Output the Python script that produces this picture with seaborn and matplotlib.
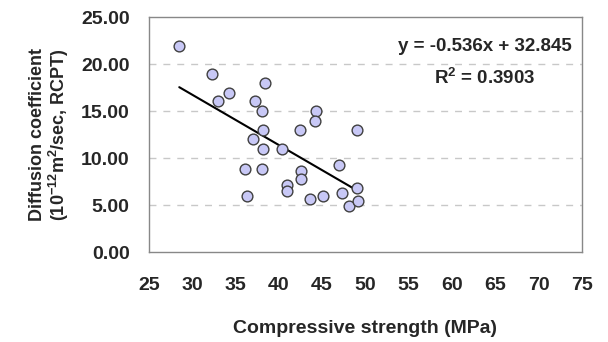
import numpy as np
import pandas as pd
import seaborn as sns
import matplotlib.pyplot as plt

# Compressive strength (MPa) vs diffusion coefficient (1e-12 m2/sec, RCPT)
strength = [28.5, 32.3, 34.3, 33.0, 38.4, 37.3, 38.05, 44.3, 44.2,
            38.2, 42.5, 49.0, 37.0, 38.2, 40.4, 36.05, 38.0, 47.0,
            42.6, 42.6, 40.9, 41.0, 36.35, 43.6, 45.1, 47.3, 49.0,
            48.1, 49.1]
diffusion = [22.0, 19.0, 17.0, 16.1, 18.0, 16.1, 15.0, 15.0, 14.0,
             13.0, 13.0, 13.0, 12.0, 11.0, 11.0, 8.8, 8.9, 9.3,
             8.6, 7.8, 7.1, 6.5, 6.0, 5.7, 6.0, 6.3, 6.8,
             4.9, 5.4]

slope = -0.536
intercept = 32.845
r2 = 0.3903

df = pd.DataFrame({'strength': strength, 'diffusion': diffusion})

sns.set_style("white")
plt.rcParams['font.family'] = ['Liberation Sans', 'DejaVu Sans']
plt.rcParams['mathtext.fontset'] = 'custom'
plt.rcParams['mathtext.rm'] = 'Liberation Sans:bold'
plt.rcParams['mathtext.it'] = 'Liberation Sans:bold'
plt.rcParams['mathtext.bf'] = 'Liberation Sans:bold'

fs = 14

fig = plt.figure(figsize=(6.08, 3.42), dpi=100)
ax = fig.add_axes([0.245, 0.263, 0.712, 0.686])

# trend line from the reported fit
xs = np.array([df['strength'].min(), df['strength'].max()])
ax.plot(xs, slope * xs + intercept, color='black', lw=1.5, zorder=2)

sns.scatterplot(data=df, x='strength', y='diffusion', ax=ax, s=60,
                color='#c8c8f6', edgecolor='#404040', linewidth=1.0, zorder=3)

ax.set_xlim(25, 75)
ax.set_ylim(0, 25)
ax.set_xticks(np.arange(25, 76, 5))
ax.set_yticks(np.arange(0, 26, 5))
ax.set_yticklabels([f'{v:.2f}' for v in np.arange(0, 26, 5)])

for y in [5, 10, 15, 20]:
    ax.axhline(y, color='#c8c8c8', lw=1, ls=(0, (5, 5)), zorder=1)

for sp in ax.spines.values():
    sp.set_color('#888888')
    sp.set_linewidth(1)

ax.tick_params(axis='both', direction='in', length=4, color='#888888',
               labelsize=fs)
ax.tick_params(axis='x', pad=18)
ax.tick_params(axis='y', pad=14)
for lab in ax.get_xticklabels() + ax.get_yticklabels():
    lab.set_fontweight('bold')

ax.set_xlabel('Compressive strength (MPa)', fontsize=fs, fontweight='bold',
              labelpad=19)
ax.set_ylabel('Diffusion coefficient\n(10$^{-12}$m$^2$/sec, RCPT)',
              fontsize=13, fontweight='bold', linespacing=1.05)
ax.yaxis.set_label_coords(-0.18, 0.5)

ax.text(63.8, 21.86, f'y = {slope}x + {intercept}', ha='center', va='center',
        fontsize=fs - 0.5, fontweight='bold')
ax.text(63.8, 18.5, f'R$^2$ = {r2}', ha='center', va='center',
        fontsize=fs - 0.5, fontweight='bold')

fig.savefig('out.png', dpi=100)
